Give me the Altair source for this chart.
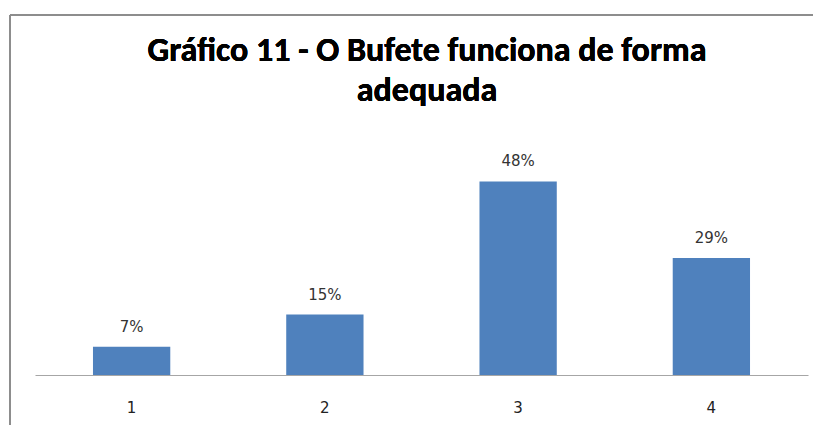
import altair as alt
import pandas as pd

categories = ["1", "2", "3", "4"]
values = [7, 15, 48, 29]
labels = ["7%", "15%", "48%", "29%"]
title_lines = ["Gráfico 11 - O Bufete funciona de forma", "adequada"]

df = pd.DataFrame({"cat": categories, "val": values, "lab": labels})

FONT = "Carlito, Open Sans, sans-serif"
LFONT = "DejaVu Sans, Verdana, sans-serif"

x = alt.X("cat:N", sort=categories, title=None,
          scale=alt.Scale(paddingInner=0.6, paddingOuter=0.3),
          axis=alt.Axis(labelAngle=0, ticks=False, domainColor="#A6A6A6", domainWidth=1.2,
                        labelFontSize=15, labelColor="#222222", labelFont=LFONT, labelPadding=25))
y = alt.Y("val:Q", title=None, scale=alt.Scale(domain=[0, 60]), axis=None)

bars = alt.Chart(df).mark_bar(color="#4F81BD").encode(x=x, y=y)
text = alt.Chart(df).mark_text(baseline="bottom", dy=-12, fontSize=15, color="#333333", font=LFONT).encode(
    x=alt.X("cat:N", sort=categories), y="val:Q", text="lab:N")

title1 = alt.Chart(df).mark_text(fontSize=34, font=FONT, fontWeight="bold", color="#000000",
                                 baseline="alphabetic", align="center").encode(
    x=alt.value(392), y=alt.value(-72), text=alt.value(title_lines[0]))
title2 = alt.Chart(df).mark_text(fontSize=34, font=FONT, fontWeight="bold", color="#000000",
                                 baseline="alphabetic", align="center").encode(
    x=alt.value(392), y=alt.value(-32), text=alt.value(title_lines[1]))

border_top = alt.Chart(df).mark_rule(color="#8C8C8C", strokeWidth=1.5).encode(
    x=alt.value(-25), x2=alt.value(800), y=alt.value(-118))
border_left = alt.Chart(df).mark_rule(color="#8C8C8C", strokeWidth=1.5).encode(
    x=alt.value(-25), y=alt.value(-118), y2=alt.value(320))

chart = alt.layer(bars, text, title1, title2, border_top, border_left).properties(
    width=773, height=242,
    autosize=alt.AutoSizeParams(type="none"),
    padding={"left": 27, "top": 125, "right": 5, "bottom": 50},
).configure_view(stroke=None).configure_axis(grid=False)

chart.save("out.html", embed_options={"renderer": "svg", "actions": False})
